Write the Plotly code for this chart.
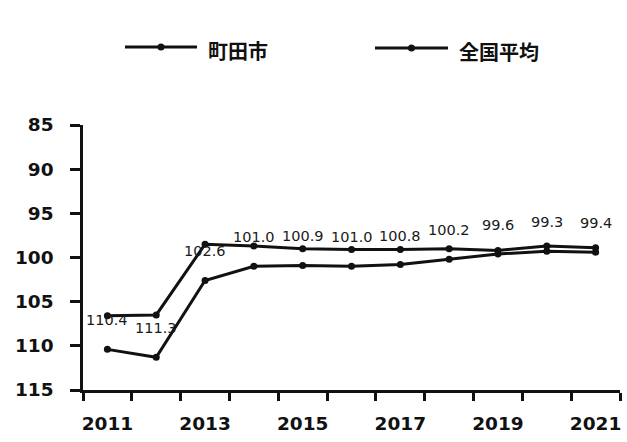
import plotly.graph_objects as go

# 年度別の指数（町田市と全国平均）
years = [2011, 2012, 2013, 2014, 2015, 2016, 2017, 2018, 2019, 2020, 2021]
machida = [110.4, 111.3, 102.6, 101.0, 100.9, 101.0, 100.8, 100.2, 99.6, 99.3, 99.4]
national = [106.6, 106.5, 98.5, 98.7, 99.0, 99.1, 99.1, 99.0, 99.2, 98.7, 98.9]
series_names = ["町田市", "全国平均"]
x_tick_labels = ["2011", "2013", "2015", "2017", "2019", "2021"]
y_ticks = [85, 90, 95, 100, 105, 110, 115]

W, H = 627, 442
ML, MR, MT, MB = 83, 7, 125, 52
PW, PH = W - ML - MR, H - MT - MB

INK = "#111111"
NUM_FONT = "DejaVu Sans"
CJK_FONT = "Noto Sans CJK JP"


def px_x(px):
    return (px - ML) / PW


def px_y(py):
    return (H - MB - py) / PH


fig = go.Figure()
for name, vals in zip(series_names, [machida, national]):
    fig.add_trace(go.Scatter(
        x=years, y=vals, name=name, mode="lines+markers",
        line=dict(color=INK, width=3),
        marker=dict(color=INK, size=7),
        showlegend=False,
    ))

# 町田市の値ラベル
annotations = []
for yr, v in zip(years, machida):
    annotations.append(dict(
        x=yr, y=v, xref="x", yref="y", text=f"{v:.1f}", showarrow=False,
        yshift=29, font=dict(family=NUM_FONT, size=14.5, color="#1a1a1a"),
    ))

# 凡例（線＋点＋名称）
shapes = []
legend_items = [(125, 197, 47, series_names[0]), (375, 448, 48, series_names[1])]
for x0, x1, ly, label in legend_items:
    shapes.append(dict(type="line", xref="paper", yref="paper",
                       x0=px_x(x0), x1=px_x(x1), y0=px_y(ly), y1=px_y(ly),
                       line=dict(color=INK, width=3)))
    shapes.append(dict(type="circle", xref="paper", yref="paper",
                       xsizemode="pixel", ysizemode="pixel",
                       xanchor=px_x((x0 + x1) / 2), yanchor=px_y(ly),
                       x0=-3.5, x1=3.5, y0=-3.5, y1=3.5,
                       fillcolor=INK, line=dict(width=0)))
    annotations.append(dict(
        x=px_x(x1 + 9), y=px_y(ly + 3), xref="paper", yref="paper",
        text=label, showarrow=False, xanchor="left", yanchor="middle",
        font=dict(family=CJK_FONT, size=20, color=INK, weight="bold"),
    ))

tick_font = dict(family=NUM_FONT, size=18.5, color=INK, weight="bold")

fig.update_layout(
    width=W, height=H,
    margin=dict(l=ML, r=MR, t=MT, b=MB),
    paper_bgcolor="white", plot_bgcolor="white",
    annotations=annotations, shapes=shapes,
    xaxis=dict(
        range=[2010.5, 2021.5], tickmode="array",
        tickvals=[int(t) for t in x_tick_labels], ticktext=x_tick_labels,
        ticks="", showgrid=False, zeroline=False,
        showline=True, linecolor=INK, linewidth=2.5,
        tickfont=tick_font,
        ticklabelstandoff=15,
        minor=dict(tickmode="array",
                   tickvals=[y + 0.5 for y in [2010] + years],
                   ticks="outside", ticklen=8, tickwidth=2.5, tickcolor=INK,
                   showgrid=False),
    ),
    yaxis=dict(
        range=[115, 85], tickmode="array", tickvals=y_ticks,
        ticks="outside", ticklen=10, tickwidth=2.5, tickcolor=INK,
        showgrid=False, zeroline=False,
        showline=True, linecolor=INK, linewidth=2.5,
        tickfont=tick_font,
        ticklabelstandoff=13,
    ),
)

fig.write_html("out.html")
